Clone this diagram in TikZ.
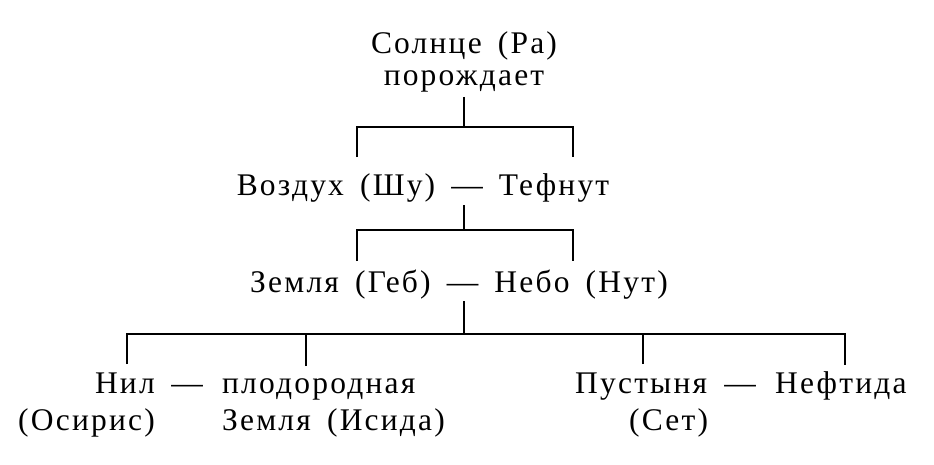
\documentclass[tikz,border=0pt]{standalone}
\usepackage{fontspec}
\setmainfont{Liberation Serif}[LetterSpace=7,WordSpace=1.6]
\usepackage{tikz}

\begin{document}
\begin{tikzpicture}[x=1pt,y=-1pt,
    txt/.style={inner sep=0pt,font=\fontsize{31.5}{35}\selectfont},
    link/.style={line width=1.6pt}]
    \useasboundingbox (0,0) rectangle (934,464);

    % Sun
    \node[txt,anchor=base] (ra) at (464,53) {Солнце (Ра)};
    \node[txt,anchor=base] (gives) at (464,85) {порождает};

    % Air and moisture
    \node[txt,anchor=base] (air) at (423,195) {Воздух (Шу) — Тефнут};

    % Earth and sky
    \node[txt,anchor=base] (earth) at (459,292) {Земля (Геб) — Небо (Нут)};

    % Nile and fertile land
    \node[txt,anchor=base east] (nile) at (155,393) {Нил};
    \node[txt,anchor=base east] (osiris) at (155,430) {(Осирис)};
    \node[txt,anchor=base] (dashA) at (187,393) {—};
    \node[txt,anchor=base west] (fertile) at (222,393) {плодородная};
    \node[txt,anchor=base west] (isis) at (222,430) {Земля (Исида)};

    % Desert and Nephthys
    \node[txt,anchor=base west] (desert) at (575,393) {Пустыня};
    \node[txt,anchor=base] (dashB) at (740,393) {—};
    \node[txt,anchor=base west] (nephthys) at (775,393) {Нефтида};
    \node[txt,anchor=base west] (set) at (629,430) {(Сет)};

    % Junctions
    \coordinate (j1) at (464,127);
    \coordinate (j2) at (464,230);
    \coordinate (j3) at (464,334);
    \coordinate (shu) at (357,157);
    \coordinate (tef) at (573,157);
    \coordinate (geb) at (357,261);
    \coordinate (nut) at (573,261);
    \coordinate (osi) at (127,364);
    \coordinate (isi) at (306,366);
    \coordinate (seth) at (643,364);
    \coordinate (nef) at (845,365);

    % Connections
    \draw[link] (j1 |- gives.south) ++(0,5) -- (j1);
    \draw[link] (shu) |- (j1) -| (tef);
    \draw[link] (j2 |- air.south) ++(0,3) -- (j2);
    \draw[link] (geb) |- (j2) -| (nut);
    \draw[link] (j3 |- earth.south) ++(0,2) -- (j3);
    \draw[link] (osi) -- (osi |- j3) -- (nef |- j3) -- (nef);
    \draw[link] (isi) -- (isi |- j3);
    \draw[link] (seth) -- (seth |- j3);
\end{tikzpicture}
\end{document}
